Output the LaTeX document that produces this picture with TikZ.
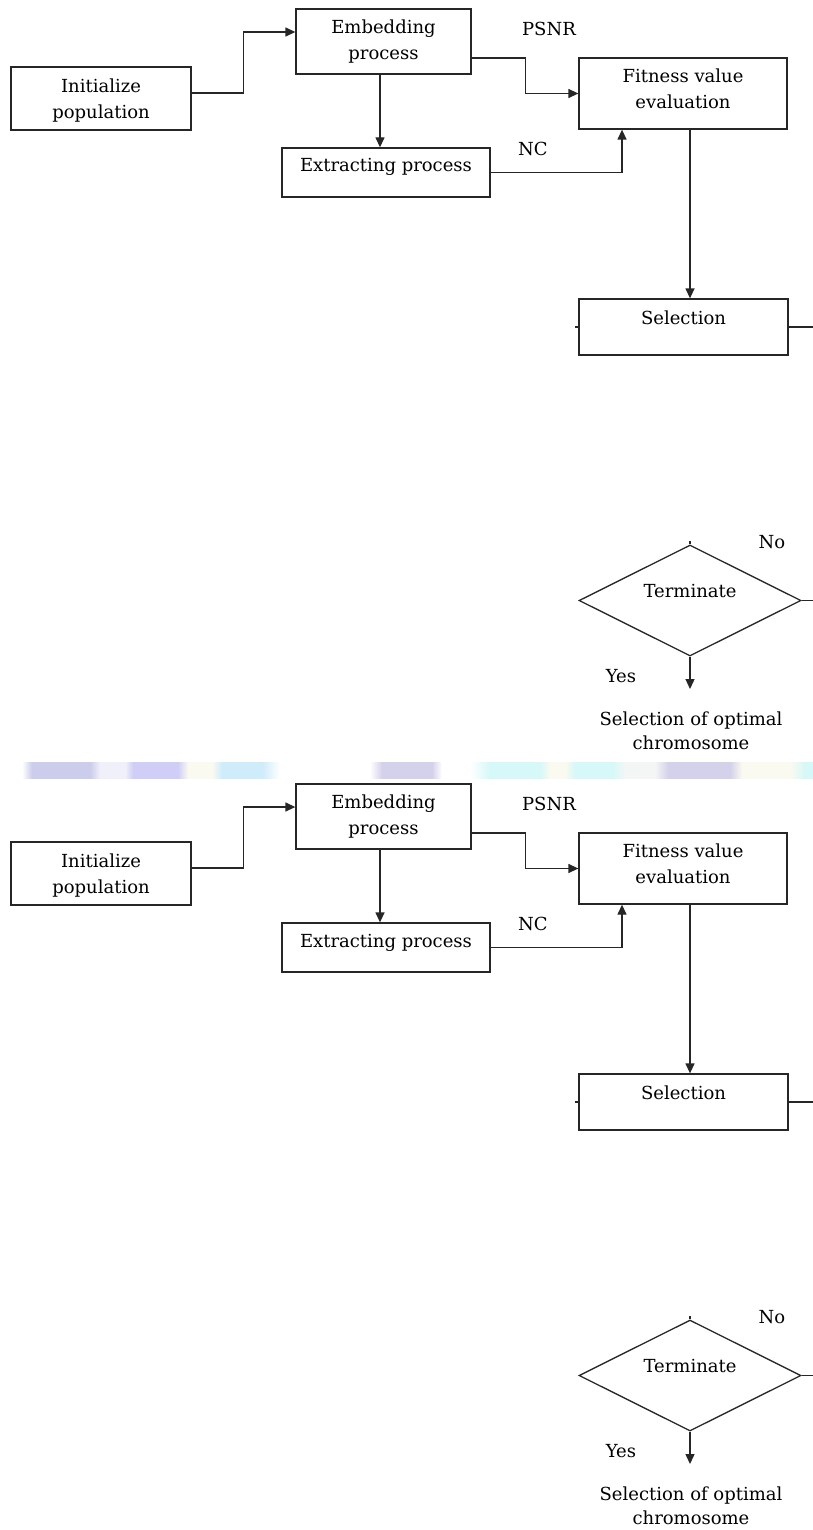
\documentclass[tikz,border=0pt]{standalone}
\usepackage{fontspec}
\setmainfont{DejaVu Serif}
\usetikzlibrary{shapes.geometric,arrows.meta,calc}
\definecolor{lavA}{RGB}{204,204,236}
\definecolor{faintA}{RGB}{240,240,250}
\definecolor{lavB}{RGB}{208,206,246}
\definecolor{creamA}{RGB}{250,250,240}
\definecolor{blueA}{RGB}{206,236,250}
\definecolor{grayLav}{RGB}{212,210,234}
\definecolor{cyanA}{RGB}{214,248,248}
\definecolor{whiteB}{RGB}{244,246,246}
\begin{document}
\begin{tikzpicture}[x=1pt,y=-1pt,
  font=\fontsize{18}{26}\selectfont,
  box/.style={draw=black!85, line width=1.3pt, inner sep=0pt, align=center},
  conn/.style={draw=black!85, line width=1.3pt},
  arr/.style={conn, -{Triangle[length=10pt,width=9pt]}},
  lbl/.style={inner sep=0pt, align=center}]
\fill[white] (0,0) rectangle (813,1530);
\useasboundingbox (0,0) rectangle (813,1530);
% blurred colour band between the two copies
\foreach \xa/\ca/\xb/\cb in {22/white/32/lavA, 32/lavA/90/lavA, 90/lavA/100/faintA, 100/faintA/125/faintA,
  125/faintA/133/lavB, 133/lavB/178/lavB, 178/lavB/188/creamA, 188/creamA/212/creamA, 212/creamA/222/blueA,
  222/blueA/262/blueA, 262/blueA/280/white, 370/white/382/grayLav, 382/grayLav/432/grayLav, 432/grayLav/442/white,
  470/white/490/cyanA, 490/cyanA/540/cyanA, 540/cyanA/550/creamA, 550/creamA/565/creamA, 565/creamA/575/cyanA,
  575/cyanA/612/cyanA, 612/cyanA/625/whiteB, 625/whiteB/655/whiteB, 655/whiteB/668/grayLav, 668/grayLav/730/grayLav,
  730/grayLav/742/creamA, 742/creamA/790/creamA, 790/creamA/805/cyanA, 805/cyanA/813/cyanA}
  {\shade[left color=\ca, right color=\cb] (\xa,762) rectangle (\xb,778);}
\foreach \o/\p in {0/t,775/b}{
\begin{scope}[shift={(0,\o)}, name prefix=\p-]
  \node[box, minimum width=180pt, minimum height=63pt, text depth=0pt] (init) at (101,98.5) {Initialize\\population};
  \node[box, minimum width=175pt, minimum height=65pt] (emb) at (383.5,41.5) {Embedding\\process};
  \node[box, minimum width=208pt, minimum height=71pt, text depth=9pt] (fit) at (683,93.5) {Fitness value\\evaluation};
  \node[box, minimum width=208pt, minimum height=49pt, text height=13pt, text depth=14pt] (ext) at (386,172.5) {Extracting process};
  \node[box, minimum width=209pt, minimum height=56pt, text height=13pt, text depth=19pt] (sel) at (683.5,327) {Selection};
  \node[box, diamond, aspect=2, minimum width=222pt, minimum height=111pt, text height=13pt, text depth=20pt] (term) at (690,600.5) {Terminate};
  \node[lbl] (psnr) at (549,29) {PSNR};
  \node[lbl] (nc) at (533,148.5) {NC};
  \node[lbl] (no) at (772,542) {No};
  \node[lbl] (yes) at (621,676) {Yes};
  \node[lbl] (opt) at (691,731) {Selection of optimal\\[-2pt]chromosome};
  \coordinate (yend) at (690,689);
  \draw[arr] ([yshift=5.5pt]init.east) -- ++(52,0) |- ([yshift=9.5pt]emb.west);
  \draw[arr] ([xshift=-3.5pt]emb.south) -- ([xshift=-3.5pt]emb.south |- ext.north);
  \draw[arr] ([yshift=-16.5pt]emb.east) -- ++(54,0) |- (fit.west);
  \draw[arr] (ext.east) -| ([xshift=-61pt]fit.south);
  \draw[arr] (fit.south -| term.north) -- (sel.north -| term.north);
  \draw[conn] (sel.west) -- ++(-3,0);
  \draw[conn] (sel.east) -- ++(25,0);
  \draw[conn] (term.east) -- ++(12,0);
  \draw[conn] (term.north) -- ++(0,-3);
  \draw[arr] (term.south) -- (yend);
\end{scope}
}
\end{tikzpicture}
\end{document}
